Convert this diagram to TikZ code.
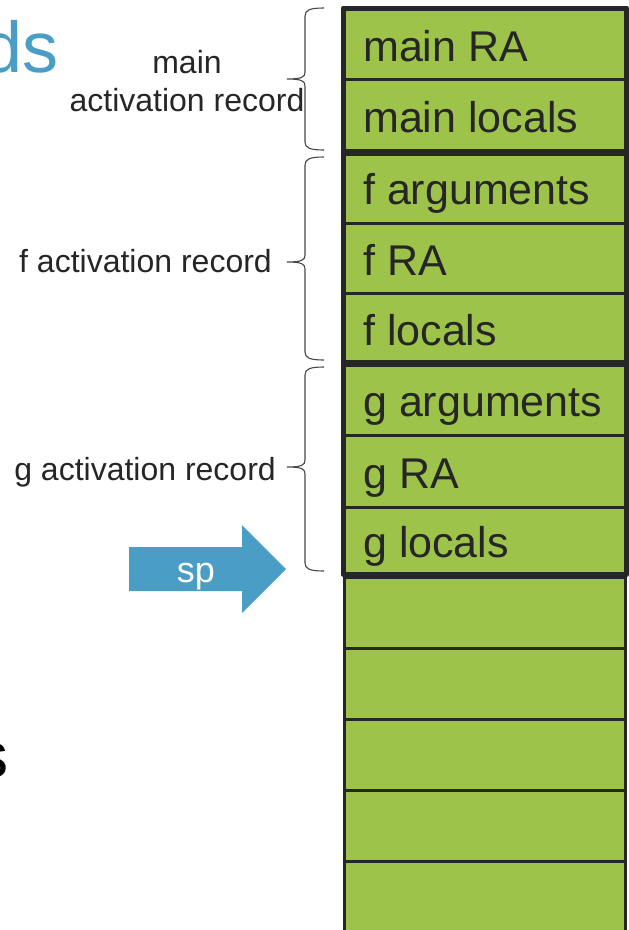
\documentclass[tikz,border=0pt]{standalone}
\usepackage{fontspec}
\setmainfont{Liberation Sans}
\usetikzlibrary{calc}
\definecolor{cellgreen}{RGB}{157,195,74}
\definecolor{ink}{RGB}{38,38,38}
\definecolor{spblue}{RGB}{74,157,197}
\begin{document}
\begin{tikzpicture}[x=1pt,y=-1pt,
  cell/.style={draw=ink, line width=2.5pt, fill=cellgreen, rectangle, inner sep=0pt, anchor=north west, minimum width=281pt},
  celltext/.style={anchor=base west, inner sep=0pt, text=ink, font=\fontsize{43}{50}\selectfont},
  group/.style={draw=ink, line width=5pt, line join=round},
  brc/.style={draw=ink!85, line width=1.1pt},
  lbl/.style={inner sep=0pt, text=ink, font=\fontsize{32}{38}\selectfont},
]
\useasboundingbox (0,0) rectangle (629,930);
\clip (0,0) rectangle (629,930);

% title fragments
\node[anchor=base east, inner sep=0pt, text=spblue, font=\fontsize{72}{80}\selectfont] (ttl) at (59,72) {ds};
\node[anchor=base east, inner sep=0pt, text=black, font=\fontsize{64}{70}\selectfont] (body) at (9,777) {s};

% empty rows
\node[cell, minimum height=71pt] (e1) at (343,576) {};
\node[cell, minimum height=71pt] (e2) at (343,647) {};
\node[cell, minimum height=71pt] (e3) at (343,718) {};
\node[cell, minimum height=71pt] (e4) at (343,789) {};
\node[cell, minimum height=71pt] (e5) at (343,860) {};

% stack rows
\node[cell, minimum height=70pt] (mra) at (343,8) {};
\node[cell, minimum height=73pt] (mloc) at (343,78) {};
\node[cell, minimum height=71pt] (farg) at (343,151) {};
\node[cell, minimum height=70pt] (fra) at (343,222) {};
\node[cell, minimum height=70pt] (floc) at (343,292) {};
\node[cell, minimum height=72pt] (garg) at (343,362) {};
\node[cell, minimum height=72pt] (gra) at (343,434) {};
\node[cell, minimum height=66pt] (gloc) at (343,506) {};

\node[celltext] (tmra) at ($(mra.west)+(20,17)$) {main RA};
\node[celltext] (tmloc) at ($(mloc.west)+(20,17)$) {main locals};
\node[celltext] (tfarg) at ($(farg.west)+(20,17)$) {f arguments};
\node[celltext] (tfra) at ($(fra.west)+(20,17)$) {f RA};
\node[celltext] (tfloc) at ($(floc.west)+(20,17)$) {f locals};
\node[celltext] (tgarg) at ($(garg.west)+(20,17)$) {g arguments};
\node[celltext] (tgra) at ($(gra.west)+(20,17)$) {g RA};
\node[celltext] (tgloc) at ($(gloc.west)+(20,17)$) {g locals};

% activation record groups
\draw[group] (mra.north west) rectangle (mloc.south east);
\draw[group] (farg.north west) rectangle (floc.south east);
\draw[group] (garg.north west) rectangle (gloc.south east);

% braces
\foreach \t/\m/\b in {8/79/150, 157/262/360, 367/467/571}{
  \draw[brc] (324,\t) .. controls (310,\t) and (305,{\t+2}) .. (305,{\t+8})
    -- (305,{\m-7}) .. controls (305,{\m-2}) and (302,\m) .. (287,\m)
    .. controls (302,\m) and (305,{\m+2}) .. (305,{\m+7})
    -- (305,{\b-8}) .. controls (305,{\b-2}) and (310,\b) .. (324,\b);
}

% labels
\node[lbl, anchor=base] (mainlbl) at (187,73) {main};
\node[lbl, anchor=base] (mainlbl2) at (187,111) {activation record};
\node[lbl, anchor=base east] (flbl) at (272,272) {f activation record};
\node[lbl, anchor=base east] (glbl) at (276,480) {g activation record};

% sp arrow
\fill[spblue] (129,547) -- (242,547) -- (242,525) -- (286,569) -- (242,613) -- (242,591) -- (129,591) -- cycle;
\node[anchor=base, inner sep=0pt, text=white, font=\fontsize{36}{40}\selectfont] (sp) at (196,582) {sp};
\end{tikzpicture}
\end{document}
